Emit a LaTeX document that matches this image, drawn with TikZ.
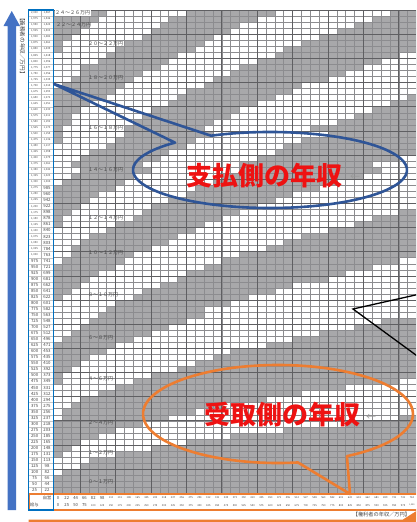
\documentclass[tikz,border=0pt]{standalone}
\usepackage{fontspec}
\newfontfamily\jp{Noto Sans CJK JP}
\definecolor{cellgray}{RGB}{168,168,170}
\definecolor{gridln}{RGB}{140,140,143}
\definecolor{gridbold}{RGB}{95,95,98}
\definecolor{arrowblue}{RGB}{68,114,196}
\definecolor{frameblue}{RGB}{0,112,192}
\definecolor{callblue}{RGB}{47,85,151}
\definecolor{callorange}{RGB}{237,125,49}
\definecolor{txtred}{RGB}{238,18,18}
\definecolor{labgray}{RGB}{70,70,70}
\definecolor{arrgray}{RGB}{150,150,150}
\newcommand\padthree[1]{\ifnum#1<100 0\fi\ifnum#1<10 0\fi\number#1}
\newcommand\fmtnum[1]{\ifnum#1<1000 \number#1\else\number\numexpr(#1-500)/1000\relax,\padthree{\numexpr#1-((#1-500)/1000)*1000\relax}\fi}
\newcommand\numfont[1]{\ifnum#1<1000 \fontsize{4.3}{4.3}\selectfont\else\fontsize{2.7}{2.7}\selectfont\fi}
\newcommand\axfont[1]{\ifnum#1<100 \fontsize{4.2}{4.2}\selectfont\else\ifnum#1<1000 \fontsize{2.6}{2.6}\selectfont\else\fontsize{2.1}{2.1}\selectfont\fi\fi}
\pgfmathdeclarefunction{rat}{1}{\pgfmathparse{(#1<=75)?0.54:((#1<=100)?0.50:((#1<=125)?0.46:((#1<=175)?0.44:((#1<=275)?0.43:((#1<=525)?0.42:((#1<=725)?0.41:((#1<=1325)?0.40:((#1<=1475)?0.39:0.38))))))))}}
\tikzset{
  bandlab/.style={font=\jp\fontsize{5}{6}\selectfont, text=labgray, anchor=west},
  bigred/.style={font=\jp\bfseries\fontsize{26}{26}\selectfont, text=txtred},
  smallarr/.style={font=\jp\fontsize{10}{10}\selectfont, text=arrgray},
  callline/.style={line width=2.6pt, line join=round}
}
\begin{document}
\begin{tikzpicture}[x=1pt,y=-1pt, every node/.style={inner sep=0pt, outer sep=0pt, font=\jp}]
\useasboundingbox (0,0) rectangle (416,522);
\fill[white] (0,0) rectangle (416,522);
\begin{scope}
\clip (0,0) rectangle (416,522);
% recipient base incomes per column
\foreach \j in {0,...,40}{
  \pgfmathsetmacro\brx{25*\j*rat(25*\j)}
  \expandafter\xdef\csname brc\j\endcsname{\brx}
}
% shaded cells
\foreach \i in {0,...,79}{
  \pgfmathsetmacro\Yp{1975-25*\i}
  \pgfmathsetmacro\bp{\Yp*rat(\Yp)}
  \pgfmathsetmacro\Az{0.031893*\bp}
  \foreach \j in {0,...,40}{
    \edef\brv{\csname brc\j\endcsname}
    \pgfmathsetmacro\A{\Az*(\bp/(\bp+\brv+0.001))}
    \pgfmathtruncatemacro\band{(\A<1)?0:((\A<2)?1:int(\A/2)+1)}
    \ifodd\band\else
      \fill[cellgray] ({53.5+8.85*\j},{10+6.04*\i}) rectangle ++(8.85,6.04);
    \fi
  }
}
% grid lines
\foreach \j in {0,...,41} \draw[gridln, line width=0.3pt] ({53.5+8.85*\j},10) -- ({53.5+8.85*\j},493.2);
\foreach \i in {0,...,80} \draw[gridln, line width=0.3pt] (53.5,{10+6.04*\i}) -- (416.4,{10+6.04*\i});
\foreach \j in {3,7,...,39} \draw[gridbold, line width=0.45pt] ({53.5+8.85*\j},10) -- ({53.5+8.85*\j},493.2);
\foreach \i in {0,4,...,80} \draw[gridbold, line width=0.45pt] (53.5,{10+6.04*\i}) -- (416.4,{10+6.04*\i});
% band labels
\node[bandlab, fill=white, inner sep=0.6pt] (b13) at (54.5,13) {２４～２６万円};
\node[bandlab] (b12) at (56,25) {２２～２４万円};
\node[bandlab] (b11) at (88,44) {２０～２２万円};
\node[bandlab] (b10) at (88,78) {１８～２０万円};
\node[bandlab] (b9) at (88,128) {１６～１８万円};
\node[bandlab] (b8) at (88,170) {１４～１６万円};
\node[bandlab] (b7) at (88,218) {１２～１４万円};
\node[bandlab] (b6) at (88,253) {１０～１２万円};
\node[bandlab] (b5) at (88,295) {８～１０万円};
\node[bandlab] (b4) at (88,338) {６～８万円};
\node[bandlab] (b3) at (88,379) {４～６万円};
\node[bandlab] (b2) at (88,423) {２～４万円};
\node[bandlab] (b1) at (88,453) {１～２万円};
\node[bandlab] (b0) at (88,482) {０～１万円};
% left income columns
\foreach \i in {1,...,79} \draw[gray!45, line width=0.25pt] (28,{10+6.04*\i}) -- (53,{10+6.04*\i});
\draw[gray!60, line width=0.3pt] (40.7,10) -- (40.7,493.2);
\foreach \s [count=\k from 0] in {1567,1546,1524,1503,1482,1461,1439,1418,1396,1377,1356,1335,1314,1293,1272,1251,1230,1211,1192,1173,1155,1136,1117,1098,1079,1061,1042,1023,1004,985,960,942,922,898,878,861,840,823,803,784,763,741,721,699,681,662,641,622,601,582,563,548,527,512,496,471,453,435,410,392,373,349,331,312,294,275,256,237,218,203,185,165,148,131,113,98,82,66,44,22}{
  \pgfmathtruncatemacro\g{2000-25*\k}
  \node[text=labgray] (sal\k) at (34.6,{10+6.04*(\k+0.5)}) {\numfont{\g}\fmtnum{\g}};
  \node[text=labgray] (se\k) at (47,{10+6.04*(\k+0.5)}) {\numfont{\s}\fmtnum{\s}};
}
% bottom axis numbers
\foreach \s [count=\k from 0] in {0,22,44,66,82,98,113,131,148,165,185,203,218,237,256,275,294,312,331,349,373,392,410,435,453,471,496,512,527,548,563,582,601,622,641,662,681,699,721,741,763}{
  \pgfmathtruncatemacro\g{25*\k}
  \node[text=labgray] (xs\k) at ({53.5+8.85*(\k+0.5)},497.8) {\axfont{\s}\fmtnum{\s}};
  \node[text=labgray] (xg\k) at ({53.5+8.85*(\k+0.5)},505.2) {\axfont{\g}\fmtnum{\g}};
}
\node[text=labgray, font=\jp\fontsize{4.2}{4.2}\selectfont] (jiei) at (47,497.8) {自営};
\node[text=labgray, font=\jp\fontsize{4.2}{4.2}\selectfont] (kyuyo) at (34.3,505.2) {給与};
% frames
\draw[callorange, line width=2pt] (28.5,493.8) rectangle (425,510.2);
\draw[frameblue, line width=1.8pt] (28.5,10) rectangle (53.5,510);
% axis arrows and titles
\fill[arrowblue] (7.5,510) -- (7.5,26) -- (3.5,26) -- (11.75,11) -- (20,26) -- (16,26) -- (16,510) -- cycle;
\node[rotate=-90, anchor=west, font=\jp\fontsize{5.6}{6}\selectfont, text=labgray] (ylab) at (22.5,15) {【義務者の年収／万円】};
\fill[callorange] (28.5,519.5) -- (403,519.5) -- (418,510) -- (418,530) -- (28.5,530) -- cycle;
\node[anchor=east, font=\jp\fontsize{5.2}{6}\selectfont, text=labgray] (xlab) at (410,514.5) {【権利者の年収／万円】};
% callouts
\coordinate (tipblue) at (54,84);
\coordinate (tiporange) at (350,494);
\draw[callblue, callline] (270,170) ++(244.5:137 and 38) arc[start angle=244.5, end angle=586.1, x radius=137, y radius=38] -- (tipblue) -- cycle;
\draw[callorange, callline] (278,414) ++(81.5:135 and 49) arc[start angle=81.5, end angle=419.3, x radius=135, y radius=49] -- (tiporange) -- cycle;
\node[bigred] (pay) at (264,176) {支払側の年収};
\node[smallarr] (arr1) at (355,177) {←};
\node[bigred] (rec) at (282,415) {受取側の年収};
\node[smallarr] (arr2) at (371,417) {←};
% black wedge
\coordinate (wtip) at (353,309);
\coordinate (wa) at (420,294);
\coordinate (wb) at (420,358);
\draw[black, line width=1.3pt, line join=miter] (wa) -- (wtip) -- (wb);
\end{scope}
\end{tikzpicture}
\end{document}
